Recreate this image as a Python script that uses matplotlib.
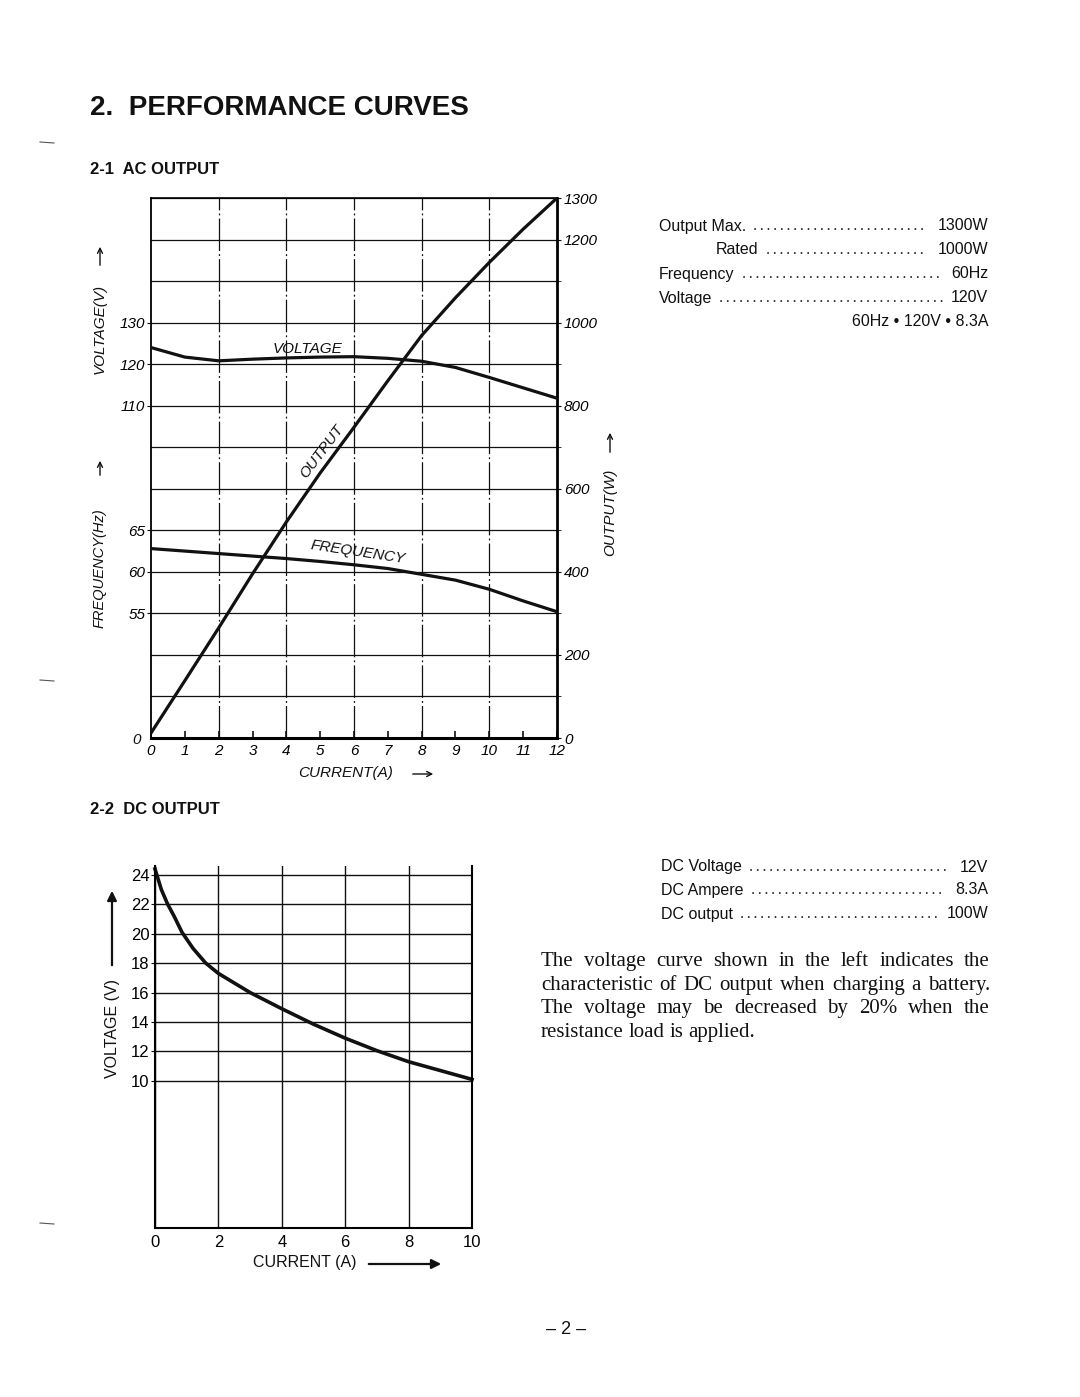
import matplotlib
matplotlib.use('Agg')
import matplotlib.pyplot as plt
from matplotlib.lines import Line2D
from matplotlib.patches import FancyArrowPatch

W, H = 1080, 1397
ink = '#111111'

# AC output curves
ac_current = [0, 1, 2, 3, 4, 5, 6, 7, 8, 9, 10, 11, 12]
ac_output = [12, 138, 265, 395, 520, 638, 748, 860, 969, 1060, 1145, 1225, 1300]
ac_voltage = [124.0, 121.7, 120.8, 121.2, 121.5, 121.7, 121.8, 121.4, 120.7, 119.2, 116.8, 114.3, 111.8]
ac_frequency = [62.8, 62.5, 62.2, 61.9, 61.6, 61.25, 60.85, 60.4, 59.7, 59.0, 57.9, 56.5, 55.2]
output_ticks = [0, 200, 400, 600, 800, 1000, 1200, 1300]
voltage_ticks = [110, 120, 130]
freq_ticks = [55, 60, 65]

# DC output curve
dc_current = [0, 0.2, 0.4, 0.6, 0.85, 1.2, 1.6, 2, 3, 4, 5, 6, 7, 8, 9, 10]
dc_voltage = [24.4, 23.0, 22.0, 21.2, 20.1, 19.0, 18.0, 17.3, 16.0, 14.9, 13.85, 12.9, 12.05, 11.3, 10.7, 10.1]
dc_xticks = [0, 2, 4, 6, 8, 10]
dc_yticks = [10, 12, 14, 16, 18, 20, 22, 24]

ac_specs = [('Output Max.', '1300W', 659, 226), ('Rated', '1000W', 716, 250),
            ('Frequency', '60Hz', 659, 274), ('Voltage', '120V', 659, 298)]
dc_specs = [('DC Voltage', '12V', 661, 867), ('DC Ampere', '8.3A', 661, 890),
            ('DC output', '100W', 661, 914)]
note_lines = ['The voltage curve shown in the left indicates the',
              'characteristic of DC output when charging a battery.',
              'The voltage may be decreased by 20% when the',
              'resistance load is applied.']

plt.rcParams['font.family'] = ['Liberation Sans', 'DejaVu Sans']


def fx(x):
    return x / W


def fy(y):
    return 1 - y / H


def arrow(x0, y0, x1, y1, style='->', lw=1.0, head=7):
    fig.add_artist(FancyArrowPatch((fx(x0), fy(y0)), (fx(x1), fy(y1)),
                                   transform=fig.transFigure, arrowstyle=style,
                                   mutation_scale=head, lw=lw, color=ink))


fig = plt.figure(figsize=(10.8, 13.97), dpi=100)
renderer = fig.canvas.get_renderer()

fig.text(fx(90), fy(108), '2.  PERFORMANCE CURVES', size=20, weight='bold', va='center', color=ink)
fig.text(fx(90), fy(170), '2-1  AC OUTPUT', size=12, weight='bold', va='center', color=ink)
fig.text(fx(90), fy(810), '2-2  DC OUTPUT', size=12, weight='bold', va='center', color=ink)

# ---- AC chart ----
ax = fig.add_axes([fx(151), fy(738), (557 - 151) / W, (738 - 198) / H])
ax.set_xlim(0, 12)
ax.set_ylim(0, 1300)

axv = ax.twinx()
axv.set_ylim(30, 160)
axf = ax.twinx()
axf.set_ylim(40, 105)

# twinx moves the host ticks to the left, so put them back on the right here
ax.yaxis.tick_right()
ax.set_yticks(output_ticks)
ax.set_yticklabels([str(t) for t in output_ticks], fontstyle='italic', size=11)
ax.set_yticks(range(0, 1301, 100), minor=True)
ax.grid(axis='y', which='both', color=ink, lw=0.9)
ax.vlines(range(2, 12, 2), 0, 1300, color=ink, lw=0.9, linestyles=(0, (26, 2.5, 1.5, 2.5)))
ax.tick_params(axis='y', which='both', direction='out', length=3, pad=2, color=ink,
               left=False, labelleft=False, right=True, labelright=True)
ax.set_xticks(ac_current)
ax.set_xticklabels([str(c) for c in ac_current], fontstyle='italic', size=11)
ax.tick_params(axis='x', direction='in', length=5, width=1.2, pad=4, color=ink)
ax.plot(ac_current, ac_output, color=ink, lw=2.3, zorder=5)
ax.text(5.05, 690, 'OUTPUT', rotation=53, ha='center', va='center', style='italic', size=11, color=ink)
for s, w in [('right', 2.0), ('bottom', 2.2), ('left', 1.3), ('top', 1.2)]:
    ax.spines[s].set_linewidth(w)

axv.yaxis.tick_left()
axv.set_yticks(voltage_ticks)
axv.set_yticklabels([str(t) for t in voltage_ticks], fontstyle='italic', size=11)
axv.tick_params(axis='y', direction='out', length=3, pad=1, color=ink)
axv.plot(ac_current, ac_voltage, color=ink, lw=2.3)
axv.text(4.63, 123.6, 'VOLTAGE', ha='center', va='center', style='italic', size=11, color=ink)

axf.yaxis.tick_left()
axf.set_yticks(freq_ticks)
axf.set_yticklabels([str(t) for t in freq_ticks], fontstyle='italic', size=11)
axf.tick_params(axis='y', direction='out', length=3, pad=1, color=ink)
axf.plot(ac_current, ac_frequency, color=ink, lw=2.3)
axf.text(6.1, 62.4, 'FREQUENCY', rotation=-8.5, ha='center', va='center', style='italic', size=11, color=ink)
for a in (axv, axf):
    for s in a.spines.values():
        s.set_visible(False)

fig.text(fx(137), fy(740), '0', style='italic', size=11, ha='center', va='center', color=ink)
fig.text(fx(100), fy(329), 'VOLTAGE(V)', rotation=90, style='italic', size=11, ha='center', va='center', color=ink)
fig.text(fx(100), fy(568), 'FREQUENCY(Hz)', rotation=90, style='italic', size=10.5, ha='center', va='center', color=ink)
fig.text(fx(610), fy(512), 'OUTPUT(W)', rotation=90, style='italic', size=11, ha='center', va='center', color=ink)
fig.text(fx(346), fy(773), 'CURRENT(A)', style='italic', size=11, ha='center', va='center', color=ink)
arrow(100, 268, 100, 244, head=9)
arrow(100, 478, 100, 458, head=9)
arrow(610, 455, 610, 430, head=9)
arrow(410, 774, 436, 774, head=9)

# ---- DC chart ----
dx = fig.add_axes([fx(155), fy(1228), (472 - 155) / W, (1228 - 866) / H])
dx.set_xlim(0, 10)
dx.set_ylim(0, 24.6)
dx.set_xticks(dc_xticks)
dx.set_yticks(dc_yticks)
dx.set_xticklabels([str(t) for t in dc_xticks], size=12)
dx.set_yticklabels([str(t) for t in dc_yticks], size=12)
dx.grid(True, color=ink, lw=1.0)
dx.tick_params(axis='x', length=0, pad=5)
dx.tick_params(axis='y', direction='out', length=3, pad=1, color=ink)
dx.spines['top'].set_visible(False)
for s in ('left', 'right', 'bottom'):
    dx.spines[s].set_linewidth(1.5)
dx.plot(dc_current, dc_voltage, color=ink, lw=2.6, clip_on=False)

fig.text(fx(112), fy(1028), 'VOLTAGE (V)', rotation=90, size=11.5, ha='center', va='center', color=ink)
fig.text(fx(305), fy(1263), 'CURRENT (A)', size=11.5, ha='center', va='center', color=ink)
arrow(112, 968, 112, 888, style='-|>', lw=1.6, head=14)
arrow(366, 1264, 444, 1264, style='-|>', lw=1.6, head=14)


# ---- spec tables ----
def spec_row(label, value, x0, y, x_right, size):
    t1 = fig.text(fx(x0), fy(y), label, size=size, va='center', color=ink)
    t2 = fig.text(fx(x_right), fy(y), value, size=size, va='center', ha='right', color=ink)
    e1 = t1.get_window_extent(renderer)
    e2 = t2.get_window_extent(renderer)
    xa = e1.x1 + 9
    xb = e2.x0 - 9
    fig.add_artist(Line2D([xa / W, xb / W], [fy(y + 3), fy(y + 3)], transform=fig.transFigure,
                          lw=1.3, color=ink, linestyle=(0, (0.1, 3.6)), dash_capstyle='round'))


for lab, val, x0, y in ac_specs:
    spec_row(lab, val, x0, y, 988, 11.5)
fig.text(fx(988), fy(322), '60Hz • 120V • 8.3A', size=11.5, ha='right', va='center', color=ink)
for lab, val, x0, y in dc_specs:
    spec_row(lab, val, x0, y, 988, 11.5)

# ---- justified note ----
serif = ['Liberation Serif', 'DejaVu Serif']
x_left, x_right = 541, 990
for i, line in enumerate(note_lines):
    yb = fy(966 + i * 23.7)
    words = line.split()
    texts = [fig.text(0, yb, w, family=serif, size=15, va='baseline', color=ink) for w in words]
    widths = [t.get_window_extent(renderer).width for t in texts]
    if i < len(note_lines) - 1:
        gap = (x_right - x_left - sum(widths)) / (len(words) - 1)
    else:
        gap = 5
    x = x_left
    for t, w in zip(texts, widths):
        t.set_x(x / W)
        x += w + gap

fig.text(fx(566), fy(1330), '– 2 –', size=13, ha='center', va='center', color=ink)

# margin marks from the scanned page
for yy in (142, 680, 1223):
    fig.add_artist(Line2D([fx(40), fx(54)], [fy(yy), fy(yy + 1)], transform=fig.transFigure,
                          lw=0.8, color='#555555'))

fig.savefig('out.png', dpi=100, facecolor='white')
